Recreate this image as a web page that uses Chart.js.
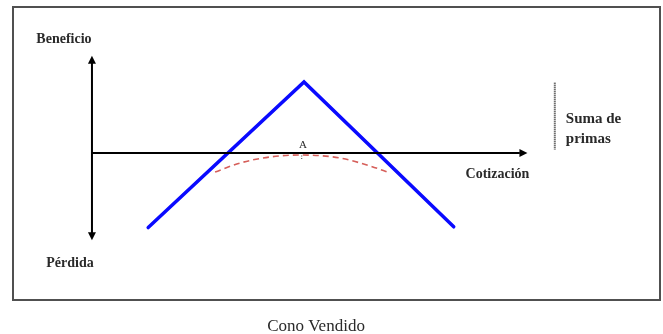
<!DOCTYPE html>
<html>
<head>
<meta charset="utf-8">
<script src="https://cdn.jsdelivr.net/npm/chart.js@4/dist/chart.umd.min.js"></script>
<style>
html,body{margin:0;padding:0;background:#fff;}
canvas{display:block;}
</style>
</head>
<body>
<canvas id="c" width="663" height="334"></canvas>
<script>
// ---- data (cotización S vs beneficio) ----
const strike = 100;
const premiumSum = 10;
const payoffS = [79.5, 100, 119.7];          // blue: short straddle payoff
const payoffP = [-10.5, 10, -10.4];
const curveS = [88.3, 91.6, 95.5, 99.7, 104.7, 108.7, 111.3]; // red dashed: value before expiry
const curveP = [-2.68, -1.41, -0.56, -0.28, -0.70, -1.83, -2.82];
const axisXS = [72.1, 129.4];      // horizontal axis extent (profit 0)
const axisYP = [13.7, -12.3];      // vertical axis extent
const primasS = 133;               // dotted marker for "Suma de primas"
const primasP = [premiumSum - 0.1, 0.5];
const tickAP = [0, -1];
const title = 'Cono Vendido';

const toPts = (xs, ys) => xs.map((x, i) => ({x: x, y: ys[i]}));

const decor = {
  id: 'decor',
  beforeDatasetsDraw(chart) {
    const {ctx, chartArea: a} = chart;
    ctx.save();
    ctx.strokeStyle = '#505050';
    ctx.lineWidth = 2;
    ctx.strokeRect(a.left, a.top, a.right - a.left, a.bottom - a.top);
    ctx.restore();
  },
  afterDatasetsDraw(chart) {
    const {ctx, chartArea: a, scales: {x, y}} = chart;
    const px = v => x.getPixelForValue(v), py = v => y.getPixelForValue(v);
    ctx.save();
    ctx.fillStyle = '#000';
    const ax = px(axisXS[0]);
    function tri(x0, y0, dir) {
      ctx.beginPath();
      if (dir === 'up') { ctx.moveTo(x0, y0); ctx.lineTo(x0 - 4, y0 + 8); ctx.lineTo(x0 + 4, y0 + 8); }
      if (dir === 'down') { ctx.moveTo(x0, y0); ctx.lineTo(x0 - 4, y0 - 8); ctx.lineTo(x0 + 4, y0 - 8); }
      if (dir === 'right') { ctx.moveTo(x0, y0); ctx.lineTo(x0 - 8, y0 - 4); ctx.lineTo(x0 - 8, y0 + 4); }
      ctx.closePath(); ctx.fill();
    }
    tri(ax, py(axisYP[0]), 'up');
    tri(ax, py(axisYP[1]), 'down');
    tri(px(axisXS[1]), py(0), 'right');
    // labels
    ctx.fillStyle = '#2a2a2a';
    ctx.textBaseline = 'middle';
    ctx.textAlign = 'center';
    ctx.font = 'bold 14px "Liberation Serif"';
    ctx.fillText('Beneficio', ax - 28, py(axisYP[0]) - 16);
    ctx.fillText('Pérdida', ax - 22, py(axisYP[1]) + 23);
    ctx.fillText('Cotización', px(axisXS[1]) - 30, py(0) + 21);
    ctx.font = '11px "Liberation Serif"';
    ctx.fillText('A', px(strike) - 1, py(0) - 8);
    ctx.textAlign = 'left';
    ctx.font = 'bold 15px "Liberation Serif"';
    ctx.fillText('Suma de', px(primasS) + 11, py(premiumSum * 0.51) + 2);
    ctx.fillText('primas', px(primasS) + 11, py(premiumSum * 0.51) + 22);
    ctx.textAlign = 'center';
    ctx.font = '17px "Liberation Serif"';
    ctx.fillText(title, 316, a.bottom + 27);
    ctx.restore();
  }
};

new Chart(document.getElementById('c'), {
  type: 'scatter',
  data: {
    datasets: [
      {data: toPts([axisXS[0], axisXS[1] - 1], [0, 0]), showLine: true, borderColor: '#000', borderWidth: 2, pointRadius: 0},
      {data: toPts([axisXS[0], axisXS[0]], [axisYP[0] - 0.6, axisYP[1] + 0.6]), showLine: true, borderColor: '#000', borderWidth: 2, pointRadius: 0},
      {data: toPts(curveS, curveP), showLine: true, borderColor: '#d65f5a', borderWidth: 1.6, borderDash: [6, 4], cubicInterpolationMode: 'monotone', pointRadius: 0},
      {data: toPts(payoffS, payoffP), showLine: true, borderColor: '#0a0aff', borderWidth: 3.5, pointRadius: 0, borderJoinStyle: 'miter', borderCapStyle: 'round'},
      {data: toPts([primasS, primasS], primasP), showLine: true, borderColor: '#333', borderWidth: 2, borderDash: [1, 1], pointRadius: 0},
      {data: toPts([strike - 0.3, strike - 0.3], tickAP), showLine: true, borderColor: '#444', borderWidth: 1, borderDash: [1, 1.5], pointRadius: 0}
    ]
  },
  options: {
    responsive: false,
    animation: false,
    events: [],
    layout: {padding: {left: 13, top: 7, right: 3, bottom: 34}},
    scales: {
      x: {type: 'linear', display: false, min: 61.71, max: 146.84},
      y: {type: 'linear', display: false, min: -20.70, max: 20.56}
    },
    plugins: {
      legend: {display: false},
      tooltip: {enabled: false},
      title: {display: false}
    }
  },
  plugins: [decor]
});
</script>
</body>
</html>
